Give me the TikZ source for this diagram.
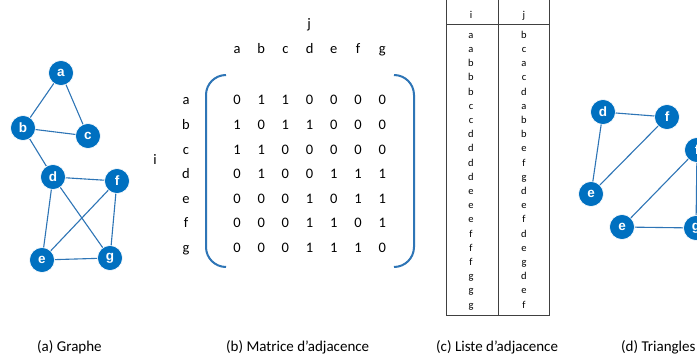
\documentclass[tikz,border=0pt]{standalone}
\usepackage{fontspec}
\setmainfont{Carlito}
\newfontfamily\nodefont{Liberation Sans}
\definecolor{nodeblue}{HTML}{0070C0}
\definecolor{edgeblue}{HTML}{2E75B6}
\definecolor{tabline}{HTML}{404040}
\begin{document}
\begin{tikzpicture}[x=1pt,y=-1pt,
  vtx/.style={circle,fill=nodeblue,draw=white,line width=0.6pt,minimum size=25pt,inner sep=0pt,text=white,font=\nodefont\bfseries\fontsize{13.5}{13.5}\selectfont},
  edge/.style={draw=edgeblue,line width=1.1pt},
  brk/.style={draw=edgeblue,line width=2pt},
  mtx/.style={anchor=base,inner sep=0pt,font=\fontsize{14.5}{14.5}\selectfont},
  tab/.style={anchor=base,inner sep=0pt,font=\fontsize{10.5}{10.5}\selectfont},
  captxt/.style={anchor=base west,inner sep=0pt,font=\fontsize{15}{15}\selectfont},
  tabrule/.style={draw=tabline,line width=0.9pt}]
\clip (0,0) rectangle (697,363);
\fill[white] (0,0) rectangle (697,363);
% (a) graph
\coordinate (pa) at (61,73);
\coordinate (pb) at (23,128);
\coordinate (pc) at (88,136);
\coordinate (pd) at (53,177);
\coordinate (pf) at (117,181);
\coordinate (pe) at (42,260);
\coordinate (pg) at (110,258);
\draw[edge] (pa)--(pb) (pa)--(pc) (pb)--(pc) (pb)--(pd) (pd)--(pf) (pd)--(pe) (pd)--(pg) (pf)--(pe) (pf)--(pg) (pe)--(pg);
\node[vtx] (a) at (pa) {a};
\node[vtx] (b) at (pb) {b};
\node[vtx] (c) at (pc) {c};
\node[vtx] (d) at (pd) {d};
\node[vtx] (f) at (pf) {f};
\node[vtx] (e) at (pe) {e};
\node[vtx] (g) at (pg) {g};
% (b) matrix
\node[mtx] (jlab) at (309,29) {j};
\node[mtx] (ilab) at (155,165) {i};
\foreach \l [count=\k from 0] in {a,b,c,d,e,f,g}{
  \node[mtx] (col\l) at (237+24.2*\k,53.5) {\l};
  \node[mtx] (row\l) at (186,105+24.55*\k) {\l};
}
\foreach \r [count=\k from 0] in {{0,1,1,0,0,0,0},{1,0,1,1,0,0,0},{1,1,0,0,0,0,0},{0,1,0,0,1,1,1},{0,0,0,1,0,1,1},{0,0,0,1,1,0,1},{0,0,0,1,1,1,0}}{
  \foreach \v [count=\m from 0] in \r {
    \node[mtx] (m\k\m) at (237+24.2*\m,105+24.55*\k) {\v};
  }
}
\coordinate (lbt) at (226,75);
\coordinate (rbt) at (394,75);
\draw[brk] (lbt) arc[start angle=-90,end angle=-180,radius=20] -- ++(0,152) arc[start angle=180,end angle=90,radius=20];
\draw[brk] (rbt) arc[start angle=-90,end angle=0,radius=20] -- ++(0,152) arc[start angle=0,end angle=90,radius=20];
% (c) list
\coordinate (tl) at (446.5,-5);
\coordinate (br) at (549.5,315);
\draw[tabrule] (tl) rectangle (br);
\draw[tabrule] (498,-5) -- (498,315);
\draw[tabrule] (446.5,24) -- (549.5,24);
\node[tab] (hi) at (471,19) {i};
\node[tab] (hj) at (524,19) {j};
\foreach \x [count=\k from 0] in {a,a,b,b,b,c,c,d,d,d,d,e,e,e,f,f,f,g,g,g}{
  \node[tab] (li\k) at (471,38.3+14.2*\k) {\x};
}
\foreach \y [count=\k from 0] in {b,c,a,c,d,a,b,b,e,f,g,d,e,f,d,e,g,d,e,f}{
  \node[tab] (lj\k) at (524,38.3+14.2*\k) {\y};
}
% (d) triangles
\coordinate (qd) at (603,112);
\coordinate (qf) at (667,117);
\coordinate (qe) at (591,194);
\coordinate (rf) at (697,150);
\coordinate (re) at (622,227);
\coordinate (rg) at (696,228);
\draw[edge] (qd)--(qf) (qd)--(qe) (qe)--(qf) (rf)--(re) (re)--(rg) (rf)--(rg);
\node[vtx] (td) at (qd) {d};
\node[vtx] (tf) at (qf) {f};
\node[vtx] (te) at (qe) {e};
\node[vtx] (uf) at (rf) {f};
\node[vtx] (ue) at (re) {e};
\node[vtx] (ug) at (rg) {g};
% captions
\node[captxt] (capa) at (37,352) {(a) Graphe};
\node[captxt] (capb) at (226,352) {(b) Matrice d’adjacence};
\node[captxt] (capc) at (436,352) {(c) Liste d’adjacence};
\node[captxt] (capd) at (621,352) {(d) Triangles};
\end{tikzpicture}
\end{document}
